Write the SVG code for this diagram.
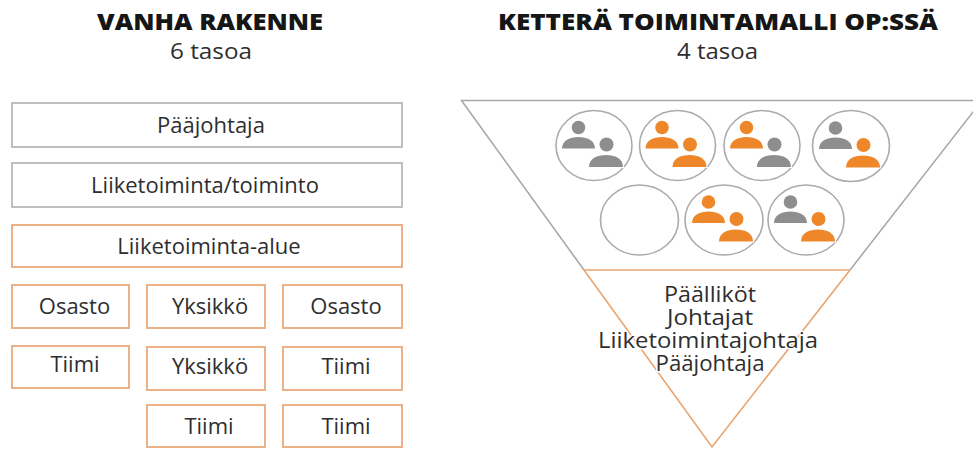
<svg xmlns="http://www.w3.org/2000/svg" xmlns:xlink="http://www.w3.org/1999/xlink" width="973" height="451" viewBox="0 0 973 451">
<style>
  text { font-family: "Open Sans", "Noto Sans", "DejaVu Sans", sans-serif; fill: #2e2e2e; }
  .title { font-size: 22px; font-weight: 800; fill: #161616; text-anchor: middle; }
  .sub { font-size: 22px; text-anchor: middle; }
  .lbl { font-size: 22px; text-anchor: middle; }
  .tri { font-size: 22px; text-anchor: middle; stroke: #fff; stroke-width: 3px; paint-order: stroke; stroke-linejoin: round; }
  .boxg { fill: #fff; stroke: #b9b9b9; stroke-width: 1.8; }
  .boxo { fill: #fff; stroke: #eaa979; stroke-width: 1.8; }
  .team { fill: #fff; stroke: #ababab; stroke-width: 1.6; }
  .gl { fill: none; stroke: #a9a9a9; stroke-width: 1.6; }
  .ol { fill: none; stroke: #eaa46e; stroke-width: 1.6; }
</style>
<defs>
  <g id="back">
    <circle cx="-15.5" cy="-18" r="6.8"/>
    <path d="M -32,3 C -32,-5 -24,-8.5 -15.5,-8.5 C -7,-8.5 1,-5 1,3 Z"/>
  </g>
  <g id="front">
    <circle cx="12.5" cy="-1" r="7"/>
    <path d="M -5,21.5 C -5,13 3,9.5 12,9.5 C 21,9.5 29,13 29,21.5 Z"/>
  </g>
</defs>
<rect width="973" height="451" fill="#fff"/>

<g id="titles">
  <text class="title" x="210" y="30" textLength="226" lengthAdjust="spacingAndGlyphs">VANHA RAKENNE</text>
  <text class="sub" x="211" y="58.5" textLength="82" lengthAdjust="spacingAndGlyphs">6 tasoa</text>
  <text class="title" x="718" y="30" textLength="440" lengthAdjust="spacingAndGlyphs">KETTERÄ TOIMINTAMALLI OP:SSÄ</text>
  <text class="sub" x="717.5" y="58.5" textLength="81" lengthAdjust="spacingAndGlyphs">4 tasoa</text>
</g>

<g id="connectors"></g>

<g id="node-paajohtaja">
  <rect class="boxg" x="12" y="103" width="390" height="44"/>
  <text class="lbl" x="211" y="133">Pääjohtaja</text>
</g>
<g id="node-liiketoiminta-toiminto">
  <rect class="boxg" x="12" y="163" width="390" height="44"/>
  <text class="lbl" x="205" y="193">Liiketoiminta/toiminto</text>
</g>
<g id="node-liiketoiminta-alue">
  <rect class="boxo" x="12" y="225" width="390" height="42"/>
  <text class="lbl" x="209" y="254">Liiketoiminta-alue</text>
</g>
<g id="node-osasto-1">
  <rect class="boxo" x="12" y="285" width="117" height="43"/>
  <text class="lbl" x="74.5" y="314">Osasto</text>
</g>
<g id="node-yksikko-1">
  <rect class="boxo" x="147" y="285" width="118" height="43"/>
  <text class="lbl" x="210" y="314">Yksikkö</text>
</g>
<g id="node-osasto-2">
  <rect class="boxo" x="283" y="285" width="119" height="43"/>
  <text class="lbl" x="346" y="314">Osasto</text>
</g>
<g id="node-tiimi-1">
  <rect class="boxo" x="12" y="346" width="117" height="42"/>
  <text class="lbl" x="75" y="372">Tiimi</text>
</g>
<g id="node-yksikko-2">
  <rect class="boxo" x="147" y="347" width="118" height="43"/>
  <text class="lbl" x="210" y="374">Yksikkö</text>
</g>
<g id="node-tiimi-2">
  <rect class="boxo" x="283" y="347" width="119" height="43"/>
  <text class="lbl" x="346" y="374">Tiimi</text>
</g>
<g id="node-tiimi-3">
  <rect class="boxo" x="147" y="405" width="118" height="42"/>
  <text class="lbl" x="209" y="434">Tiimi</text>
</g>
<g id="node-tiimi-4">
  <rect class="boxo" x="283" y="405" width="119" height="42"/>
  <text class="lbl" x="346" y="434">Tiimi</text>
</g>

<g id="node-triangle">
  <polyline class="gl" points="584,270 461.5,100.5 982,100.5 850,270"/>
  <polyline class="ol" points="584,270 712,447 850,270"/>
  <line class="ol" x1="584" y1="270" x2="850" y2="270"/>
</g>

<g id="node-team-1">
  <ellipse class="team" cx="594" cy="145.5" rx="38" ry="35"/>
  <use xlink:href="#back" href="#back" transform="translate(594,145.5)" fill="#8e8e8e"/>
  <use xlink:href="#front" href="#front" transform="translate(594,145.5)" fill="#8e8e8e" stroke="#fff" stroke-width="2.2" paint-order="stroke"/>
</g>
<g id="node-team-2">
  <ellipse class="team" cx="677.5" cy="145.5" rx="38" ry="35"/>
  <use xlink:href="#back" href="#back" transform="translate(677.5,145.5)" fill="#ee8729"/>
  <use xlink:href="#front" href="#front" transform="translate(677.5,145.5)" fill="#ee8729" stroke="#fff" stroke-width="2.2" paint-order="stroke"/>
</g>
<g id="node-team-3">
  <ellipse class="team" cx="762" cy="145.5" rx="38" ry="35"/>
  <use xlink:href="#back" href="#back" transform="translate(762,145.5)" fill="#ee8729"/>
  <use xlink:href="#front" href="#front" transform="translate(762,145.5)" fill="#8e8e8e" stroke="#fff" stroke-width="2.2" paint-order="stroke"/>
</g>
<g id="node-team-4">
  <ellipse class="team" cx="851" cy="146" rx="38.5" ry="35.5"/>
  <use xlink:href="#back" href="#back" transform="translate(851,146)" fill="#8e8e8e"/>
  <use xlink:href="#front" href="#front" transform="translate(851,146)" fill="#ee8729" stroke="#fff" stroke-width="2.2" paint-order="stroke"/>
</g>
<g id="node-team-5">
  <ellipse class="team" cx="639.5" cy="220" rx="39" ry="35"/>
</g>
<g id="node-team-6">
  <ellipse class="team" cx="724" cy="220" rx="39" ry="35"/>
  <use xlink:href="#back" href="#back" transform="translate(724,220)" fill="#ee8729"/>
  <use xlink:href="#front" href="#front" transform="translate(724,220)" fill="#ee8729" stroke="#fff" stroke-width="2.2" paint-order="stroke"/>
</g>
<g id="node-team-7">
  <ellipse class="team" cx="806" cy="220" rx="38" ry="35"/>
  <use xlink:href="#back" href="#back" transform="translate(806,220)" fill="#8e8e8e"/>
  <use xlink:href="#front" href="#front" transform="translate(806,220)" fill="#ee8729" stroke="#fff" stroke-width="2.2" paint-order="stroke"/>
</g>

<g id="node-levels">
  <text class="tri" x="710" y="302" textLength="92" lengthAdjust="spacingAndGlyphs">Päälliköt</text>
  <text class="tri" x="710" y="325" textLength="86" lengthAdjust="spacingAndGlyphs">Johtajat</text>
  <text class="tri" x="708" y="348" textLength="220" lengthAdjust="spacingAndGlyphs">Liiketoimintajohtaja</text>
  <text class="tri" x="710" y="371" textLength="109" lengthAdjust="spacingAndGlyphs">Pääjohtaja</text>
</g>
</svg>
